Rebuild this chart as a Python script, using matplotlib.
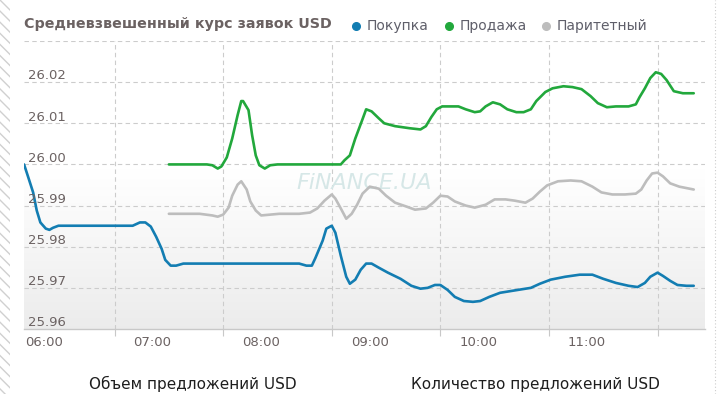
import matplotlib
matplotlib.use("Agg")
import matplotlib.pyplot as plt
import matplotlib.transforms as mtransforms
from matplotlib.lines import Line2D
from matplotlib.patches import Rectangle
import numpy as np

# Покупка
buy_times = ["05:49", "05:51", "05:54", "05:56", "05:58", "06:01", "06:03", "06:05", "06:08",
             "06:49", "06:53", "06:56", "06:59", "07:02", "07:05", "07:07", "07:10", "07:13",
             "07:17", "08:21", "08:25", "08:28", "08:30", "08:34", "08:36", "08:39", "08:41",
             "08:44", "08:47", "08:49", "08:52", "08:55", "08:58", "09:01", "09:05", "09:10",
             "09:17", "09:23", "09:28", "09:32", "09:36", "09:39", "09:43", "09:47", "09:52",
             "09:57", "10:01", "10:06", "10:12", "10:19", "10:29", "10:34", "10:40", "10:48",
             "10:56", "11:03", "11:09", "11:16", "11:23", "11:28", "11:32", "11:35", "11:39",
             "11:42", "11:46", "11:50", "11:55", "11:59"]
buy_rates = [26.0000, 25.9973, 25.9932, 25.9888, 25.9859, 25.9844, 25.9841, 25.9846, 25.9851,
             25.9851, 25.9859, 25.9859, 25.9849, 25.9824, 25.9795, 25.9768, 25.9754, 25.9754,
             25.9759, 25.9759, 25.9754, 25.9754, 25.9773, 25.9815, 25.9844, 25.9851, 25.9834,
             25.9778, 25.9727, 25.9710, 25.9720, 25.9744, 25.9759, 25.9759, 25.9749, 25.9737,
             25.9722, 25.9705, 25.9698, 25.9700, 25.9707, 25.9707, 25.9695, 25.9678, 25.9668,
             25.9666, 25.9668, 25.9678, 25.9688, 25.9693, 25.9700, 25.9710, 25.9720, 25.9727,
             25.9732, 25.9732, 25.9722, 25.9712, 25.9705, 25.9702, 25.9712, 25.9727, 25.9737,
             25.9729, 25.9717, 25.9707, 25.9705, 25.9705]

# Продажа
sell_times = ["07:09", "07:30", "07:33", "07:36", "07:38", "07:41", "07:44", "07:47", "07:49",
              "07:50", "07:53", "07:55", "07:57", "07:59", "08:02", "08:05", "08:09", "08:44",
              "08:46", "08:49", "08:52", "08:56", "08:58", "09:01", "09:05", "09:08", "09:14",
              "09:22", "09:28", "09:31", "09:34", "09:37", "09:40", "09:49", "09:53", "09:58",
              "10:01", "10:04", "10:08", "10:12", "10:16", "10:21", "10:25", "10:29", "10:32",
              "10:37", "10:41", "10:47", "10:52", "10:57", "11:02", "11:06", "11:11", "11:16",
              "11:23", "11:27", "11:29", "11:32", "11:35", "11:38", "11:41", "11:44", "11:48",
              "11:53", "11:59"]
sell_rates = [26.0000, 26.0000, 25.9998, 25.9990, 25.9995, 26.0017, 26.0063, 26.0120, 26.0154,
              26.0154, 26.0132, 26.0071, 26.0022, 25.9998, 25.9990, 25.9998, 26.0000, 26.0000,
              26.0010, 26.0022, 26.0063, 26.0110, 26.0134, 26.0129, 26.0112, 26.0100, 26.0093,
              26.0088, 26.0085, 26.0093, 26.0115, 26.0134, 26.0141, 26.0141, 26.0134, 26.0127,
              26.0129, 26.0141, 26.0151, 26.0146, 26.0134, 26.0127, 26.0127, 26.0134, 26.0154,
              26.0176, 26.0185, 26.0190, 26.0188, 26.0183, 26.0166, 26.0149, 26.0139, 26.0141,
              26.0141, 26.0146, 26.0163, 26.0185, 26.0210, 26.0224, 26.0220, 26.0205, 26.0178,
              26.0173, 26.0173]

# Паритетный
par_times = ["07:09", "07:26", "07:33", "07:36", "07:39", "07:42", "07:44", "07:47", "07:49",
             "07:52", "07:54", "07:57", "08:00", "08:05", "08:10", "08:21", "08:27", "08:31",
             "08:35", "08:39", "08:41", "08:44", "08:47", "08:50", "08:53", "08:56", "09:00",
             "09:05", "09:09", "09:14", "09:20", "09:25", "09:31", "09:35", "09:39", "09:43",
             "09:47", "09:53", "09:58", "10:04", "10:09", "10:15", "10:20", "10:26", "10:30",
             "10:34", "10:38", "10:44", "10:51", "10:57", "11:03", "11:08", "11:14", "11:21",
             "11:27", "11:30", "11:33", "11:36", "11:39", "11:42", "11:46", "11:51", "11:59"]
par_rates = [25.9880, 25.9880, 25.9876, 25.9873, 25.9878, 25.9895, 25.9924, 25.9951, 25.9959,
             25.9939, 25.9910, 25.9888, 25.9876, 25.9878, 25.9880, 25.9880, 25.9883, 25.9893,
             25.9912, 25.9927, 25.9917, 25.9893, 25.9868, 25.9880, 25.9902, 25.9929, 25.9946,
             25.9941, 25.9924, 25.9907, 25.9898, 25.9890, 25.9893, 25.9907, 25.9924, 25.9922,
             25.9910, 25.9900, 25.9895, 25.9902, 25.9915, 25.9915, 25.9912, 25.9907, 25.9917,
             25.9934, 25.9949, 25.9959, 25.9961, 25.9959, 25.9946, 25.9932, 25.9927, 25.9927,
             25.9929, 25.9939, 25.9961, 25.9978, 25.9980, 25.9971, 25.9954, 25.9946, 25.9939]

hour_labels = ["06:00", "07:00", "08:00", "09:00", "10:00", "11:00"]
rate_ticks = [25.96, 25.97, 25.98, 25.99, 26.00, 26.01, 26.02]

title = "Средневзвешенный курс заявок USD"
series_names = ["Покупка", "Продажа", "Паритетный"]
colors = ["#137db2", "#22a83c", "#bdbdbd"]
bottom_titles = ["Объем предложений USD", "Количество предложений USD"]


def to_hours(times):
    return [int(t[:2]) + int(t[3:]) / 60 for t in times]


W, H = 720, 394
fig = plt.figure(figsize=(W / 100, H / 100), dpi=100)
fig.patch.set_facecolor("white")

# plot area in pixels: left 24, right 705, top 41, bottom 329
ax = fig.add_axes([24 / W, (H - 329) / H, 681 / W, 288 / H])
ax.set_xlim(5.816, 12.087)
ax.set_ylim(25.96, 26.03)

# background gradient (white on top, light grey at bottom)
grad = np.ones((100, 1, 3))
k = np.linspace(0, 1, 100)
shade = np.clip((k - 0.45) / 0.55, 0, 1)
for c in range(3):
    grad[:, 0, c] = 1 - shade * (1 - 0.925)
ax.imshow(grad, extent=[5.816, 12.087, 25.96, 26.03], aspect="auto", origin="upper", zorder=0)

# grid
for v in [25.97, 25.98, 25.99, 26.00, 26.01, 26.02, 26.03]:
    ax.axhline(v, color="#cccccc", lw=0.8, dashes=(4, 3), zorder=1)
grid_x = [h + 39 / 60 for h in range(6, 12)]
for gx in grid_x:
    ax.axvline(gx, color="#cccccc", lw=0.8, dashes=(4, 3), zorder=1)

ax.plot(to_hours(buy_times), buy_rates, color=colors[0], lw=1.9, zorder=4,
        solid_joinstyle="round", solid_capstyle="round")
ax.plot(to_hours(sell_times), sell_rates, color=colors[1], lw=1.9, zorder=3,
        solid_joinstyle="round", solid_capstyle="round")
ax.plot(to_hours(par_times), par_rates, color=colors[2], lw=1.9, zorder=2,
        solid_joinstyle="round", solid_capstyle="round")

# watermark
ax.text(8.95, 25.9956, "FiNANCE.UA", fontsize=16, style="italic", color="#d6e7e7",
        ha="center", va="center", zorder=1.5)

# axes decoration
for s in ["top", "left", "right"]:
    ax.spines[s].set_visible(False)
ax.spines["bottom"].set_color("#c8c8c8")
ax.spines["bottom"].set_linewidth(1)
ax.set_yticks([])
ax.set_xticks(range(6, 12))
ax.set_xticklabels(hour_labels, fontsize=9.5, color="#6b6262")
ax.tick_params(axis="x", which="major", length=0, pad=5)
ax.set_xticks(grid_x, minor=True)
ax.tick_params(axis="x", which="minor", length=5, color="#c8c8c8", width=0.8)

lab_tr = mtransforms.offset_copy(ax.get_yaxis_transform(), fig=fig, x=3, y=2, units="points")
for v in rate_ticks:
    ax.text(0.0, v, f"{v:.2f}", transform=lab_tr, fontsize=9.5, color="#6b6262",
            ha="left", va="baseline", zorder=5)

# title and legend
fig.text(24 / W, 1 - 24 / H, title, fontsize=10.3, fontweight="bold", color="#6b6262",
         ha="left", va="center")
marker_x = [356, 449, 546]
text_x = [367, 460, 557]
for name, col, mx, tx in zip(series_names, colors, marker_x, text_x):
    fig.add_artist(Line2D([mx / W], [1 - 26 / H], marker="o", markersize=5.5,
                          color=col, linestyle="none", transform=fig.transFigure))
    fig.text(tx / W, 1 - 26 / H, name, fontsize=10, color="#5f5f6a", ha="left", va="center")

# side decorations
fig.add_artist(Rectangle((0, 0), 10 / W, 1, transform=fig.transFigure, facecolor="white",
                         edgecolor="#d0d0d0", hatch="\\\\\\", lw=0))
fig.add_artist(Line2D([715 / W, 715 / W], [0, 1], transform=fig.transFigure,
                      color="#cccccc", lw=0.8, dashes=(1, 2)))

# bottom section titles
for txt, cx in zip(bottom_titles, [193, 535]):
    fig.text(cx / W, 1 - 384 / H, txt, fontsize=11, color="#1e1e1e",
             ha="center", va="center")

fig.savefig("out.png", dpi=100)
